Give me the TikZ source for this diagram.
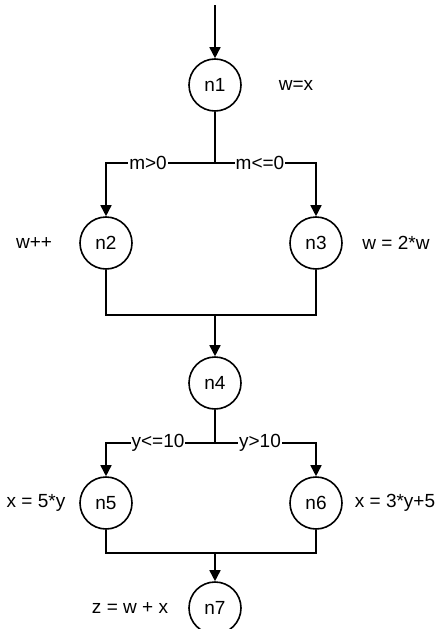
\documentclass[tikz,border=0pt]{standalone}
\usepackage{fontspec}
\setmainfont{Liberation Sans}
\usetikzlibrary{arrows.meta}
\begin{document}
\begin{tikzpicture}[x=1pt,y=-1pt,
  font=\fontsize{19}{22}\selectfont,
  st/.style={circle,draw,line width=1.6pt,minimum size=52pt,inner sep=0pt},
  ln/.style={line width=1.6pt},
  ar/.style={ln,-{Triangle[length=11pt,width=11pt]}},
  lab/.style={fill=white,inner sep=1pt},
  txt/.style={inner sep=0pt}]
\useasboundingbox (0,0) rectangle (446,629);
\node[st] (n1) at (215,85) {n1};
\node[st] (n2) at (106,243) {n2};
\node[st] (n3) at (316,243) {n3};
\node[st] (n4) at (215,383) {n4};
\node[st] (n5) at (106,503) {n5};
\node[st] (n6) at (316,503) {n6};
\node[st] (n7) at (215,608) {n7};
\coordinate (top) at (215,5);
\coordinate (b1) at (215,163);
\coordinate (m1) at (215,315);
\coordinate (b2) at (215,443);
\coordinate (m2) at (215,553);
\draw[ar] (top) -- (n1);
\draw[ln] (n1) -- (b1);
\draw[ar] (b1) -- (n2.north |- b1) -- (n2);
\draw[ar] (b1) -- (n3.north |- b1) -- (n3);
\node[lab] (l1) at (148,163) {m>0};
\node[lab] (l2) at (260,163) {m<=0};
\draw[ln] (n2) -- (n2.south |- m1) -- (n3.south |- m1) -- (n3);
\draw[ar] (m1) -- (n4);
\draw[ln] (n4) -- (b2);
\draw[ar] (b2) -- (n5.north |- b2) -- (n5);
\draw[ar] (b2) -- (n6.north |- b2) -- (n6);
\node[lab] (l3) at (158,443) {y<=10};
\node[lab] (l4) at (260,443) {y>10};
\draw[ln] (n5) -- (n5.south |- m2) -- (n6.south |- m2) -- (n6);
\draw[ar] (m2) -- (n7);
\node[txt] (t1) at (296,85) {w=x};
\node[txt] (t2) at (34,243) {w++};
\node[txt] (t3) at (396,243) {w = 2*w};
\node[txt] (t4) at (36,503) {x = 5*y};
\node[txt] (t5) at (395,503) {x = 3*y+5};
\node[txt] (t6) at (130,608) {z = w + x};
\end{tikzpicture}
\end{document}
